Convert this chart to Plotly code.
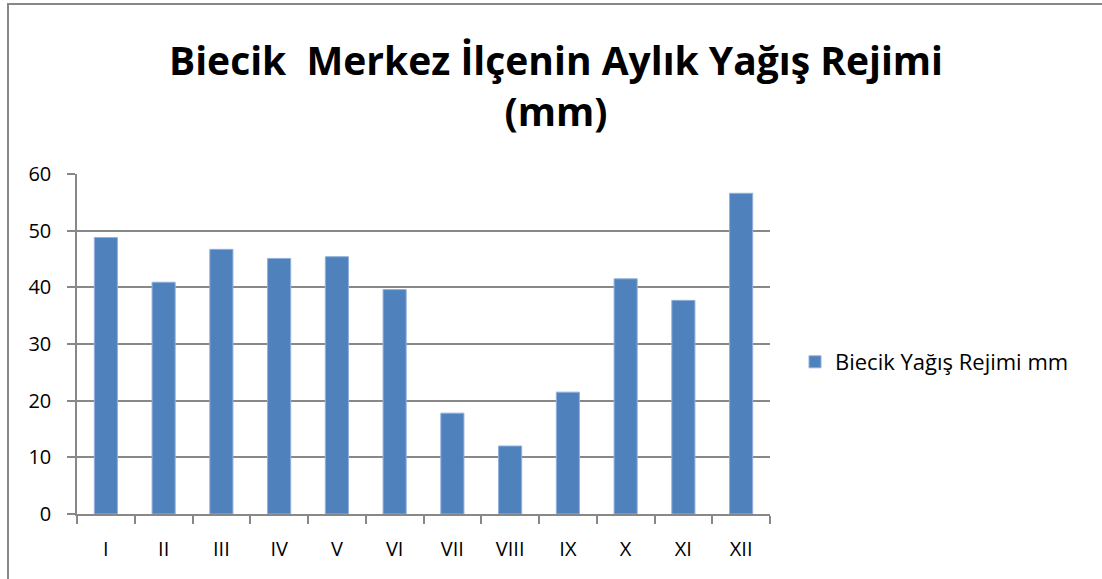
import plotly.graph_objects as go

months = ["I", "II", "III", "IV", "V", "VI", "VII", "VIII", "IX", "X", "XI", "XII"]
rainfall = [48.8, 40.9, 46.7, 45.1, 45.4, 39.6, 17.8, 12.0, 21.5, 41.5, 37.7, 56.6]
series_name = "Biecik Yağış Rejimi mm"
title_text = "Biecik&nbsp; Merkez İlçenin Aylık Yağış Rejimi<br>(mm)"
y_ticks = [0, 10, 20, 30, 40, 50, 60]

W, H = 1102, 579
L, R, T, B = 77, 332, 174, 65
pw, ph = W - L - R, H - T - B

fig = go.Figure()
fig.add_trace(go.Bar(
    x=months, y=rainfall, name=series_name,
    marker=dict(color="#4F81BD", line=dict(color="#8fb0da", width=1)),
    showlegend=True,
))

font_family = "Open Sans, Noto Sans, DejaVu Sans, sans-serif"

fig.update_layout(
    width=W, height=H,
    margin=dict(l=L, r=R, t=T, b=B),
    paper_bgcolor="white", plot_bgcolor="white",
    bargap=0.6,
    font=dict(family=font_family, size=20, color="black"),
    title=dict(
        text=title_text,
        x=556 / W, xanchor="center", xref="container",
        y=1 - 75 / H, yanchor="middle", yref="container",
        font=dict(family=font_family, size=39, color="black", weight="bold"),
    ),
    showlegend=True,
    legend=dict(
        x=(795 - L) / pw, xanchor="left",
        y=(H - B - 362) / ph, yanchor="middle",
        font=dict(size=22, color="black"),
        bgcolor="rgba(0,0,0,0)",
        itemwidth=30,
    ),
    xaxis=dict(
        type="category",
        showline=True, linecolor="#888888", linewidth=1.5,
        ticks="outside", tickson="boundaries", ticklen=8, tickcolor="#888888", tickwidth=1.5,
        showgrid=False,
        tickfont=dict(size=20),
        ticklabelstandoff=16,
    ),
    yaxis=dict(
        range=[0, 60], tickvals=y_ticks,
        showline=True, linecolor="#888888", linewidth=1.5,
        ticks="outside", ticklen=8, tickcolor="#888888", tickwidth=1.5,
        showgrid=True, gridcolor="#888888", gridwidth=1.5,
        zeroline=False,
        tickfont=dict(size=20),
        ticklabelstandoff=12,
    ),
    shapes=[dict(
        type="rect", xref="paper", yref="paper",
        x0=(8 - L) / pw, x1=(W + 20 - L) / pw,
        y0=-(B + 20) / ph, y1=(H - B - 4) / ph,
        line=dict(color="#888888", width=2), fillcolor="rgba(0,0,0,0)",
        layer="below",
    )],
)

fig.write_html(
    "out.html",
    config={"displayModeBar": False},
    post_script="document.body.style.margin='0';document.body.style.overflow='hidden';",
)
